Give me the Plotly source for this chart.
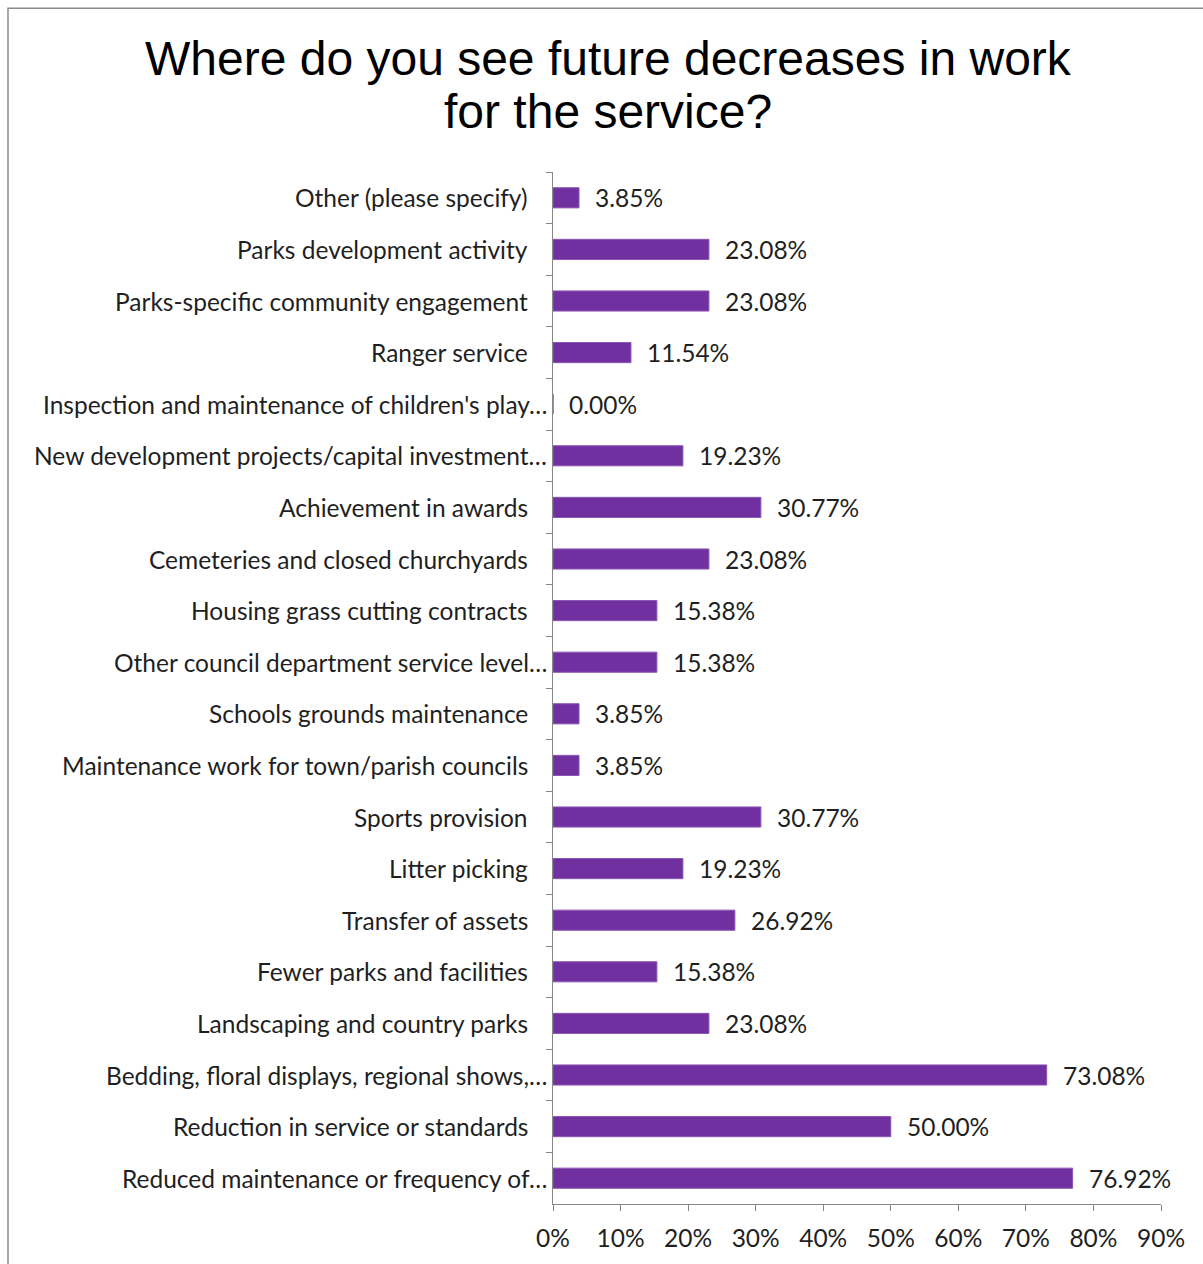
import plotly.graph_objects as go

# Survey responses, listed top to bottom as they appear on the chart
categories = [
    "Other (please specify)",
    "Parks development activity",
    "Parks-specific community engagement",
    "Ranger service",
    "Inspection and maintenance of children's play…",
    "New development projects/capital investment…",
    "Achievement in awards",
    "Cemeteries and closed churchyards",
    "Housing grass cutting contracts",
    "Other council department service level…",
    "Schools grounds maintenance",
    "Maintenance work for town/parish councils",
    "Sports provision",
    "Litter picking",
    "Transfer of assets",
    "Fewer parks and facilities",
    "Landscaping and country parks",
    "Bedding, floral displays, regional shows,…",
    "Reduction in service or standards",
    "Reduced maintenance or frequency of…",
]
values = [
    3.85, 23.08, 23.08, 11.54, 0.00, 19.23, 30.77, 23.08, 15.38, 15.38,
    3.85, 3.85, 30.77, 19.23, 26.92, 15.38, 23.08, 73.08, 50.00, 76.92,
]
x_ticks = [0, 10, 20, 30, 40, 50, 60, 70, 80, 90]
x_tick_labels = [f"{t}%" for t in x_ticks]
title_lines = ["Where do you see future decreases in work", "for the service?"]

BAR = "#7030A0"
TEXT = "#1f1f1f"
AXIS = "#878787"
LABEL_FONT = "Lato"
LABEL_SIZE = 24.5

# plot-area geometry in pixels
W, H = 1203, 1264
M_L, M_R, M_T, M_B = 553, 42, 172, 58
PLOT_W = W - M_L - M_R
PLOT_H = H - M_T - M_B


def px_to_paper_x(px):
    return (px - M_L) / PLOT_W


def px_to_paper_y(py):
    return (H - M_B - py) / PLOT_H


fig = go.Figure()
fig.add_trace(go.Bar(
    x=values,
    y=categories,
    orientation="h",
    marker=dict(color=BAR, line=dict(color="#8a55b5", width=1)),
    hoverinfo="x+y",
))

annotations = []
# value labels beside each bar
for cat, v in zip(categories, values):
    annotations.append(dict(
        x=v, y=cat, xref="x", yref="y", text=f"{v:.2f}%",
        showarrow=False, xanchor="left", yanchor="middle", xshift=14,
        font=dict(family=LABEL_FONT, size=LABEL_SIZE, color=TEXT),
    ))
# category labels; truncated names run closer to the axis
for cat in categories:
    annotations.append(dict(
        x=0, y=cat, xref="x", yref="y", text=cat,
        showarrow=False, xanchor="right", yanchor="middle",
        xshift=-4 if cat.endswith("…") else -23,
        font=dict(family=LABEL_FONT, size=LABEL_SIZE, color=TEXT),
    ))
# two-line chart title
for line, py in zip(title_lines, [58, 111]):
    annotations.append(dict(
        x=px_to_paper_x(608), y=px_to_paper_y(py), xref="paper", yref="paper",
        text=line, showarrow=False, xanchor="center", yanchor="middle",
        font=dict(family="Liberation Sans", size=48, color="#000000"),
    ))

fig.update_layout(
    width=W,
    height=H,
    margin=dict(l=M_L, r=M_R, t=M_T, b=M_B),
    paper_bgcolor="white",
    plot_bgcolor="white",
    showlegend=False,
    bargap=0.61,
    annotations=annotations,
    shapes=[dict(
        type="rect", xref="paper", yref="paper",
        x0=px_to_paper_x(8), x1=px_to_paper_x(1215),
        y0=px_to_paper_y(1280), y1=px_to_paper_y(8),
        line=dict(color="#8c8c8c", width=1.5), fillcolor="rgba(0,0,0,0)",
        layer="below",
    )],
    xaxis=dict(
        range=[0, 90],
        tickvals=x_ticks,
        ticktext=x_tick_labels,
        showgrid=False,
        zeroline=False,
        showline=True,
        linecolor=AXIS,
        linewidth=1,
        ticks="outside",
        ticklen=6,
        tickcolor=AXIS,
        ticklabelstandoff=7,
        tickfont=dict(family=LABEL_FONT, size=LABEL_SIZE, color=TEXT),
    ),
    yaxis=dict(
        categoryorder="array",
        categoryarray=categories,
        autorange="reversed",
        showgrid=False,
        zeroline=False,
        showline=True,
        linecolor=AXIS,
        linewidth=1,
        ticks="outside",
        tickson="boundaries",
        ticklen=6,
        tickcolor=AXIS,
        showticklabels=False,
    ),
)

fig.write_html("out.html")
